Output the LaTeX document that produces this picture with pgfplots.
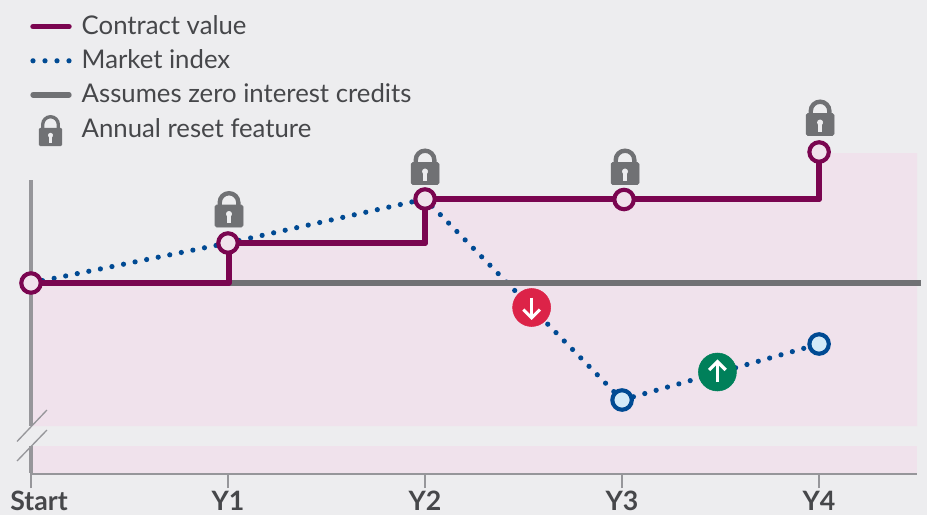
\documentclass[border=0pt]{standalone}
\usepackage{pgfplots}
\usepackage{fontspec}
\setmainfont{Lato}
\pgfplotsset{compat=1.18}
\definecolor{bgc}{HTML}{EDEDEF}
\definecolor{pinkc}{HTML}{F0E2EC}
\definecolor{contractc}{HTML}{7A0550}
\definecolor{marketc}{HTML}{004A93}
\definecolor{lightblue}{HTML}{D3EAF8}
\definecolor{zeroc}{HTML}{707174}
\definecolor{axisc}{HTML}{96969A}
\definecolor{textc}{HTML}{46474A}
\definecolor{redc}{HTML}{DC2348}
\definecolor{greenc}{HTML}{00805A}
\def\px{0.75pt}
\pgfdeclareplotmark{lock}{%
  \draw[zeroc,line width=3.3pt] (-9.3*\px,8*\px) -- (-9.3*\px,13.5*\px) arc[start angle=180,end angle=0,radius=9.3*\px] -- (9.3*\px,8*\px);
  \fill[zeroc,rounded corners=1.2pt] (-14*\px,-11*\px) rectangle (14*\px,11*\px);
  \fill[bgc] (0pt,2*\px) circle[radius=2.7*\px];
  \fill[bgc] (-1.5*\px,-6.3*\px) rectangle (1.5*\px,2*\px);
}
\pgfdeclareplotmark{locksmall}{%
  \draw[zeroc,line width=2.5pt] (-7.8*\px,6*\px) -- (-7.8*\px,12.4*\px) arc[start angle=180,end angle=0,radius=7.8*\px] -- (7.8*\px,6*\px);
  \fill[zeroc,rounded corners=1pt] (-11.4*\px,-8.9*\px) rectangle (11.4*\px,8.9*\px);
  \fill[bgc] (0pt,1.6*\px) circle[radius=2.2*\px];
  \fill[bgc] (-1.2*\px,-5*\px) rectangle (1.2*\px,1.6*\px);
}
\pgfdeclareplotmark{downbadge}{%
  \fill[redc] (0pt,0pt) circle[radius=19*\px];
  \draw[white,line width=2.3pt] (0pt,10*\px) -- (0pt,-10*\px);
  \draw[white,line width=2.3pt] (-8.3*\px,-2*\px) -- (0pt,-10.3*\px) -- (8.3*\px,-2*\px);
}
\pgfdeclareplotmark{upbadge}{%
  \fill[greenc] (0pt,0pt) circle[radius=19*\px];
  \draw[white,line width=2.5pt] (0pt,-10*\px) -- (0pt,10*\px);
  \draw[white,line width=2.5pt] (-8.3*\px,2*\px) -- (0pt,10.3*\px) -- (8.3*\px,2*\px);
}
\begin{document}
\begin{tikzpicture}
\fill[bgc] (0,0) rectangle (927*\px,515*\px);
\path[use as bounding box] (0,0) rectangle (927*\px,515*\px);
\begin{axis}[
  at={(31*\px,42*\px)}, anchor=south west,
  scale only axis, width=886*\px, height=293*\px,
  xmin=0, xmax=4.497, ymin=-190, ymax=103,
  clip=false,
  axis x line=bottom, axis y line=none,
  axis line style={-, draw=axisc, line width=2.4pt},
  xtick={0,1,2,3,4},
  xticklabels={\hspace*{12pt}Start,Y1,Y2,Y3,Y4},
  tick align=outside, major tick length=15*\px,
  x tick style={draw=axisc, line width=1.1pt},
  xticklabel style={font=\fontsize{20pt}{21pt}\selectfont\bfseries, text=textc, inner sep=0pt, anchor=base, yshift=-17pt},
  legend cell align=left,
  legend style={
    at={(-1/886,1.572)}, anchor=north west, draw=none, fill=none,
    font=\fontsize{19.3pt}{20pt}\selectfont, text=textc, inner sep=0pt,
    row sep=4.6pt, column sep=7.5pt,
    nodes={inner sep=0pt, text height=16pt, text depth=5pt},
  },
]
% pink region under the contract value
\addplot[fill=pinkc, draw=none, forget plot] coordinates {(0,0)(1,0)(1,40)(2,40)(2,84)(4,84)(4,130)(4.497,130)(4.497,-143)(0,-143)} --cycle;
\addplot[fill=pinkc, draw=none, forget plot] coordinates {(0,-163)(4.497,-163)(4.497,-190)(0,-190)} --cycle;
% y axis with break
\addplot[axisc, line width=2.5pt, forget plot] coordinates {(0,103)(0,-143)};
\addplot[axisc, line width=2.5pt, forget plot] coordinates {(0,-163)(0,-190)};
\addplot[axisc, line width=1pt, forget plot] coordinates {(-0.071,-158.5)(0.081,-127)};
\addplot[axisc, line width=1pt, forget plot] coordinates {(-0.071,-178)(0.081,-147)};
% series
\addplot[contractc, line width=3.9pt, line join=round, line cap=round,
  legend image code/.code={\draw[contractc,line width=4.1pt,line cap=round] (0pt,0pt) -- (36*\px,0pt);}]
  coordinates {(0,0)(1.005,0)(1.005,40)(2,40)(2,84)(4,84)(4,131)};
\addlegendentry{Contract value}
\addplot[marketc, line width=3.9pt, line cap=round, dash pattern=on 0pt off 8.85pt,
  legend image code/.code={\draw[marketc,line width=3.9pt,line cap=round,dash pattern=on 0pt off 9pt] (0pt,0pt) -- (27.1pt,0pt);}]
  coordinates {(0,0)(1,40)(2,84)(3,-117)(4,-61)};
\addlegendentry{Market index}
\addplot[zeroc, line width=4pt,
  legend image code/.code={\draw[zeroc,line width=4pt,line cap=round] (0pt,0pt) -- (36*\px,0pt);}]
  coordinates {(0,0)(4.518,0)};
\addlegendentry{Assumes zero interest credits}
\addplot[only marks, mark=lock,
  legend image code/.code={\pgftransformshift{\pgfpoint{17.5*\px}{-6.5*\px}}\pgfuseplotmark{locksmall}}]
  coordinates {(1.005,67)(2,109.5)(3.015,109.5)(4.005,158.5)};
\addlegendentry{Annual reset feature}
% re-draw series over the zero line
\addplot[contractc, line width=3.9pt, line join=round, line cap=round, forget plot]
  coordinates {(0,0)(1.005,0)(1.005,40)(2,40)(2,84)(4,84)(4,131)};
% value markers
\addplot[only marks, mark=*, mark size=7.3pt, forget plot, mark options={draw=contractc, fill=pinkc, line width=3.1pt}]
  coordinates {(0,0)(1,40)(2,84)(3.01,83.5)(4,131)};
\addplot[only marks, mark=*, mark size=7.3pt, forget plot, mark options={draw=marketc, fill=lightblue, line width=3.1pt}]
  coordinates {(3,-117)(4,-61)};
\addplot[only marks, mark=downbadge, forget plot] coordinates {(2.541,-24.5)};
\addplot[only marks, mark=upbadge, forget plot] coordinates {(3.484,-89)};
\end{axis}
\end{tikzpicture}
\end{document}
